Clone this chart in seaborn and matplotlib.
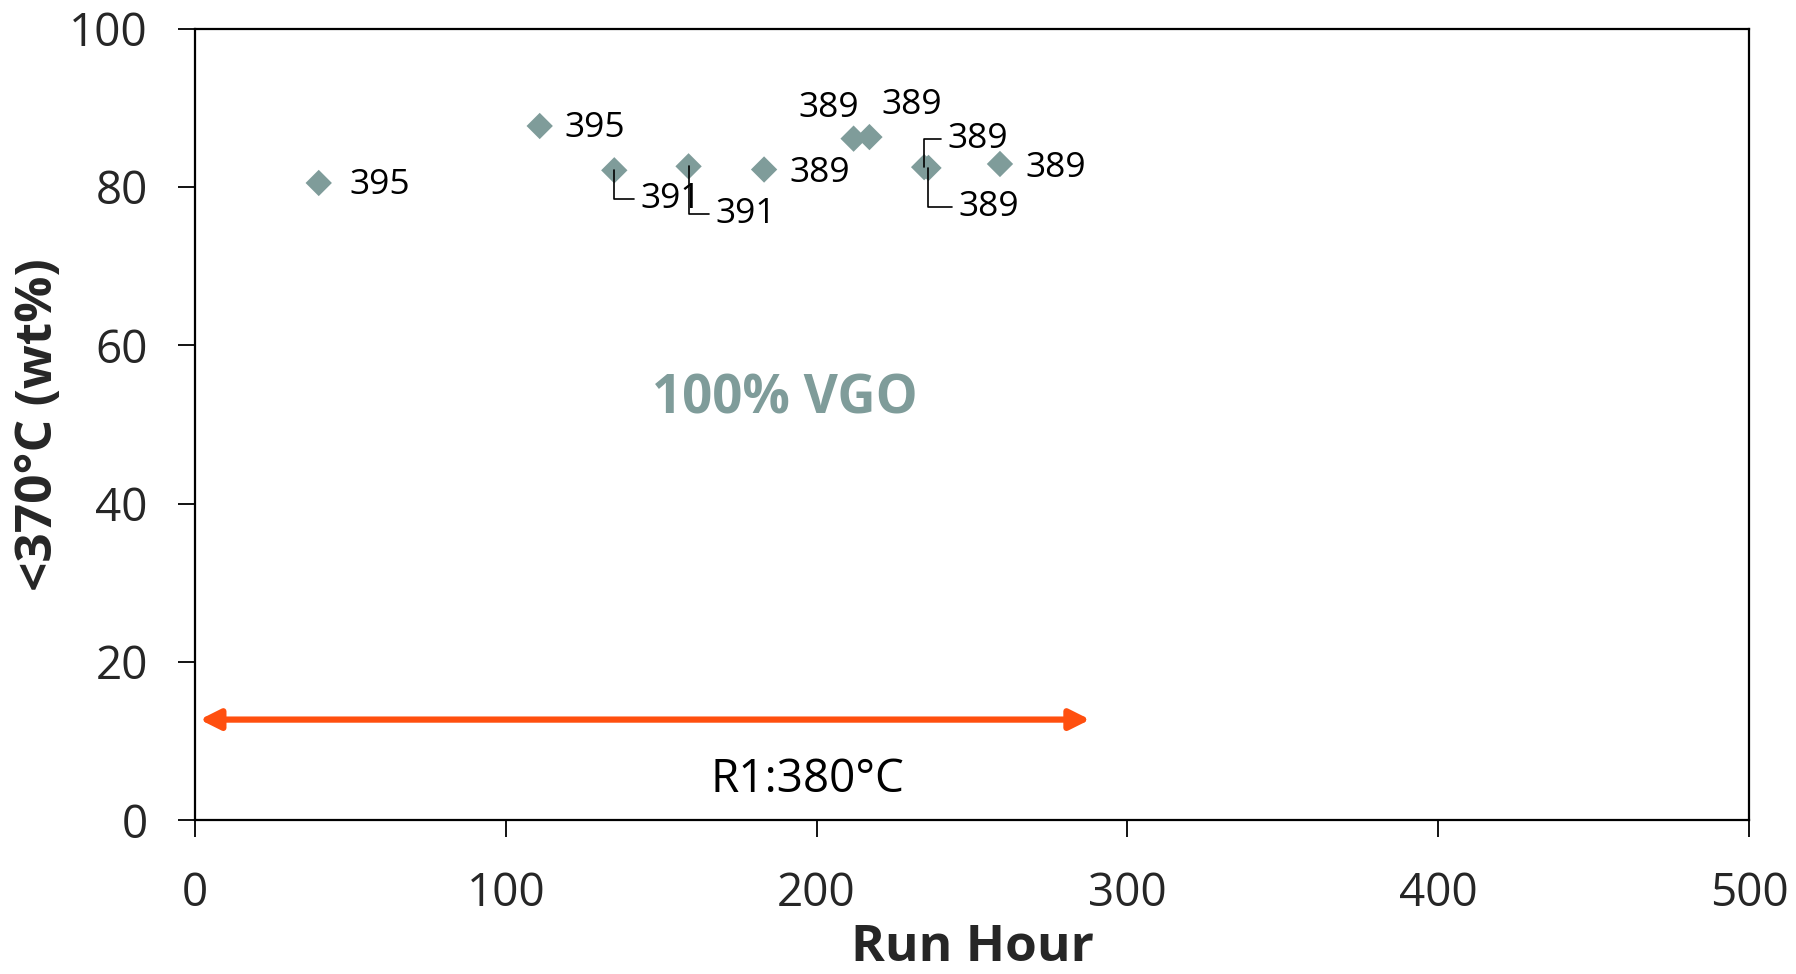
import matplotlib
matplotlib.use("Agg")
import matplotlib.pyplot as plt
import seaborn as sns
import pandas as pd

# ---- data ----
run_hour = [39.8, 110.9, 134.9, 158.8, 183.1, 211.9, 217.0, 234.6, 236.0, 259.0]
conversion = [80.5, 87.7, 82.1, 82.6, 82.2, 86.1, 86.3, 82.5, 82.4, 82.9]
point_labels = ["395", "395", "391", "391", "389", "389", "389", "389", "389", "389"]
label_x = [59.5, 128.5, 152.9, 177.2, 201.0, 203.8, 230.7, 251.7, 255.3, 277.0]
label_y = [80.2, 87.4, 78.5, 76.6, 81.8, 90.0, 90.3, 86.0, 77.5, 82.4]
leader = [False, False, True, True, False, False, False, True, True, False]
x_ticks = [0, 100, 200, 300, 400, 500]
y_ticks = [0, 20, 40, 60, 80, 100]
range_start, range_end, range_y = 1.5, 288.0, 12.7
range_label = "R1:380°C"
feed_label = "100% VGO"

df = pd.DataFrame({"Run Hour": run_hour, "conv": conversion})

sns.set_theme(style="white")
plt.rcParams["font.family"] = ["Open Sans", "DejaVu Sans"]

fig = plt.figure(figsize=(17.96, 9.74), dpi=100)
ax = fig.add_axes([0.1086, 0.158, 0.8652, 0.8126])

marker_color = "#7f9c9a"
sns.scatterplot(data=df, x="Run Hour", y="conv", marker="D", s=180,
                color=marker_color, edgecolor="none", ax=ax, zorder=3)

for xi, yi, lx, ly, t, ld in zip(run_hour, conversion, label_x, label_y, point_labels, leader):
    if ld:
        ax.annotate(t, xy=(xi, yi), xytext=(lx, ly), ha="center", va="center",
                    fontsize=25.5, color="black",
                    arrowprops=dict(arrowstyle="-", color="black", lw=1.2,
                                    connectionstyle="angle,angleA=0,angleB=90,rad=0",
                                    relpos=(0, 0.5), shrinkA=2, shrinkB=0))
    else:
        ax.text(lx, ly, t, ha="center", va="center", fontsize=25.5, color="black")

ax.annotate("", xy=(range_start, range_y), xytext=(range_end, range_y),
            arrowprops=dict(arrowstyle="<|-|>", color="#ff4f0f", lw=4.5,
                            mutation_scale=30, shrinkA=0, shrinkB=0))
ax.text(197, 5.1, range_label, ha="center", va="center",
        fontsize=33, color="black")
ax.text(189.8, 53.1, feed_label, ha="center", va="center", fontsize=38,
        fontweight="bold", color=marker_color)

ax.set_xlim(0, 500)
ax.set_ylim(0, 100)
ax.set_xticks(x_ticks)
ax.set_yticks(y_ticks)
ax.tick_params(axis="both", which="major", direction="out", length=12, width=1.3,
               color="black", labelsize=33, bottom=True, left=True)
ax.tick_params(axis="x", pad=25)
ax.tick_params(axis="y", pad=22)
for sp in ax.spines.values():
    sp.set_color("black")
    sp.set_linewidth(1.6)
    sp.set_visible(True)
ax.set_xlabel("Run Hour", fontsize=37, fontweight="bold", labelpad=4)
ax.set_ylabel("<370°C (wt%)", fontsize=37, fontweight="bold", labelpad=4)
ax.grid(False)

fig.savefig("out.png", dpi=100)
